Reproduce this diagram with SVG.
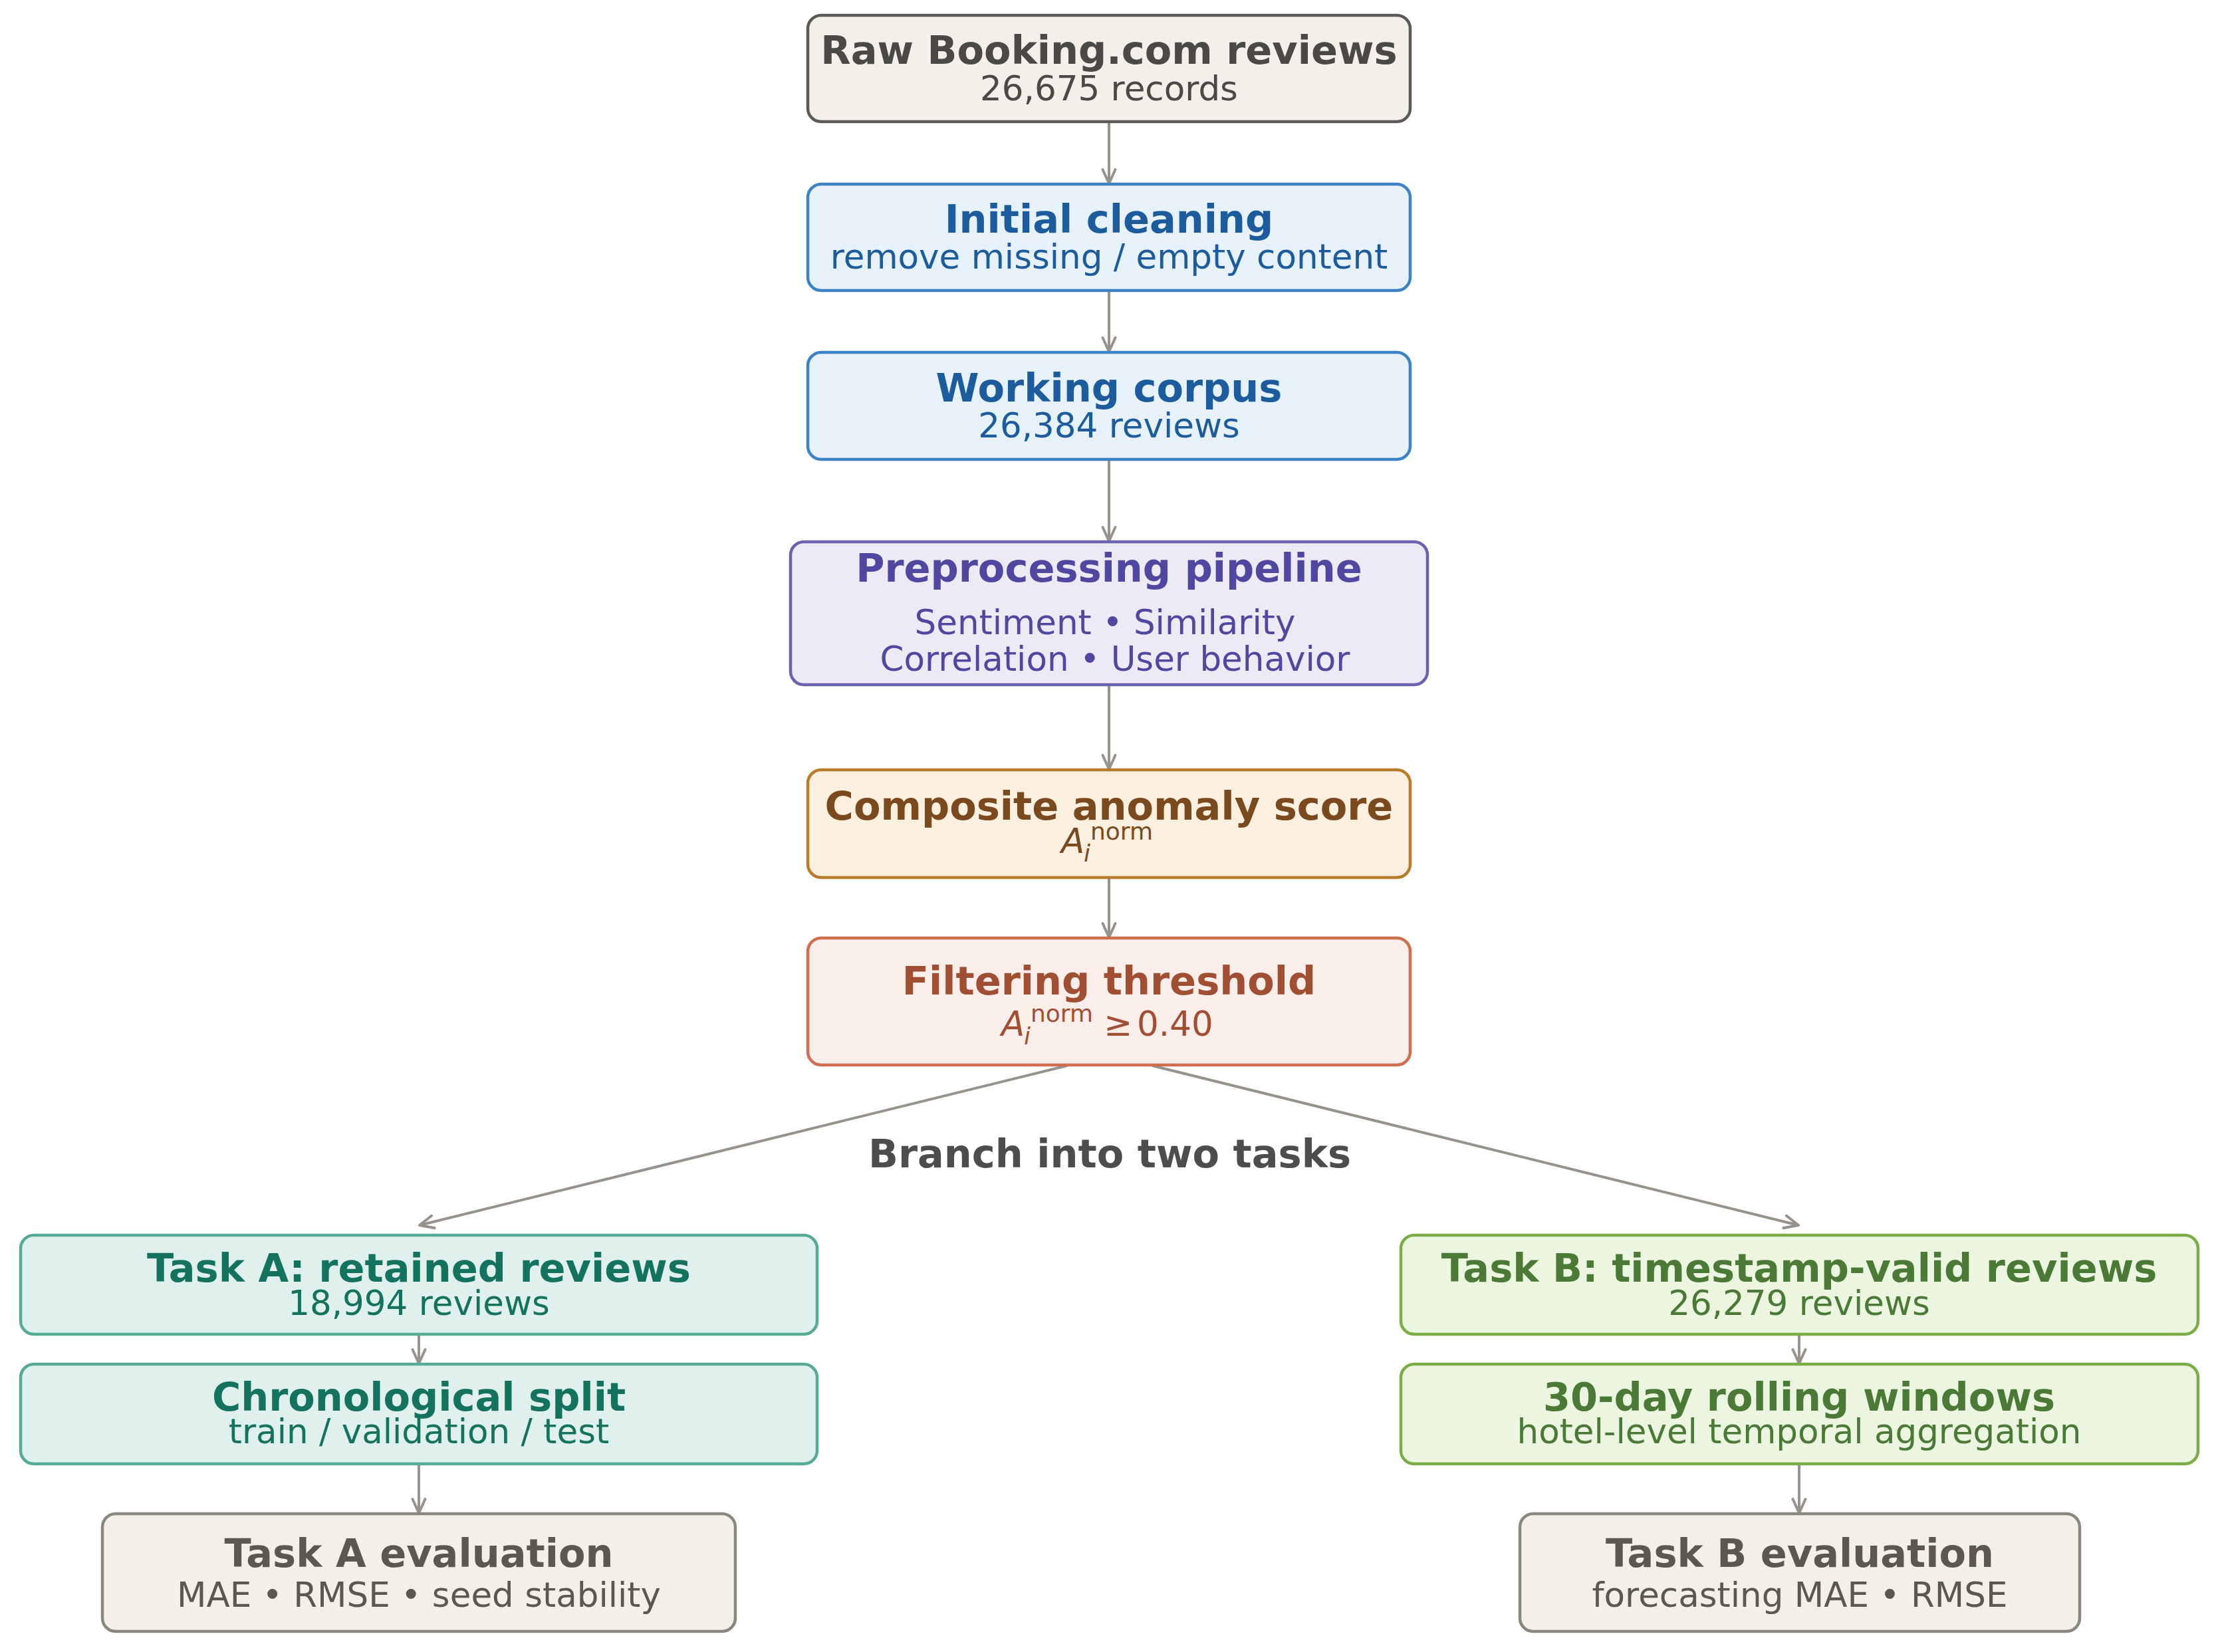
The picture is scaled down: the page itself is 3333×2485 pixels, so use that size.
<svg xmlns="http://www.w3.org/2000/svg" width="3333" height="2485" viewBox="0 0 3333 2485">
<style>
text{font-family:"DejaVu Sans","Liberation Sans",sans-serif}
.t{font-weight:bold;font-size:59px;text-anchor:middle}
.s{font-size:51.5px;text-anchor:middle}
.box{stroke-width:4.5}
.gray rect{fill:#f3f0ea;stroke:#5b5a55}
.gray text{fill:#4a4944}
.blue rect{fill:#e7f1fa;stroke:#3d82c4}
.blue text{fill:#1d5c9c}
.purple rect{fill:#edeaf6;stroke:#6b62b0}
.purple text{fill:#5048a0}
.amber rect{fill:#fbf0e0;stroke:#b97c2c}
.amber text{fill:#7a4a1e}
.red rect{fill:#f9eee9;stroke:#d06e50}
.red text{fill:#a14f32}
.teal rect{fill:#e0f0ec;stroke:#55ab95}
.teal text{fill:#13735e}
.green rect{fill:#ebf5e0;stroke:#7bad47}
.green text{fill:#4a7a36}
.eval rect{fill:#f3f0ea;stroke:#8b877f}
.eval text{fill:#5c5751}
.m{font-size:51.5px;font-style:italic}
.sup{font-size:36px}
.sub{font-size:36px;font-style:italic}
#connectors line{stroke:#97928b;stroke-width:4;fill:none;marker-end:url(#arr)}
</style>
<defs>
<marker id="arr" markerUnits="userSpaceOnUse" viewBox="-26 -14 30 28" refX="0" refY="0" markerWidth="30" markerHeight="28" orient="auto">
<path d="M-21,-9.5 L0,0 L-21,9.5" fill="none" stroke="#97928b" stroke-width="4" stroke-linecap="round" stroke-linejoin="round"/>
</marker>
</defs>
<rect width="3333" height="2485" fill="#ffffff"/>
<g id="connectors">
<line x1="1668" y1="185" x2="1668" y2="276"/>
<line x1="1668" y1="439" x2="1668" y2="529"/>
<line x1="1668" y1="693" x2="1668" y2="814"/>
<line x1="1668" y1="1032" x2="1668" y2="1157"/>
<line x1="1668" y1="1322" x2="1668" y2="1410"/>
<line x1="1605" y1="1603" x2="631" y2="1843"/>
<line x1="1733" y1="1603" x2="2705" y2="1843"/>
<line x1="630" y1="2009" x2="630" y2="2051"/>
<line x1="630" y1="2204" x2="630" y2="2276"/>
<line x1="2706" y1="2009" x2="2706" y2="2051"/>
<line x1="2706" y1="2204" x2="2706" y2="2276"/>
</g>
<g id="raw" class="gray">
<rect class="box" x="1215" y="23" width="906" height="160" rx="20"/>
<text class="t" x="1668" y="96">Raw Booking.com reviews</text>
<text class="s" x="1668" y="151">26,675 records</text>
</g>
<g id="cleaning" class="blue">
<rect class="box" x="1215" y="277" width="906" height="160" rx="20"/>
<text class="t" x="1668" y="350">Initial cleaning</text>
<text class="s" x="1668" y="404">remove missing / empty content</text>
</g>
<g id="corpus" class="blue">
<rect class="box" x="1215" y="530" width="906" height="161" rx="20"/>
<text class="t" x="1668" y="604">Working corpus</text>
<text class="s" x="1668" y="658">26,384 reviews</text>
</g>
<g id="preprocessing" class="purple">
<rect class="box" x="1189" y="815" width="958" height="215" rx="20"/>
<text class="t" x="1668" y="875">Preprocessing pipeline</text>
<text class="s" x="1662" y="954">Sentiment • Similarity</text>
<text class="s" x="1677" y="1009">Correlation • User behavior</text>
</g>
<g id="composite" class="amber">
<rect class="box" x="1215" y="1158" width="906" height="162" rx="20"/>
<text class="t" x="1668" y="1233">Composite anomaly score</text>
<text class="m" x="1596" y="1283">A</text>
<text class="sub" x="1630" y="1296">i</text>
<text class="sup" x="1640" y="1263">norm</text>
</g>
<g id="threshold" class="red">
<rect class="box" x="1215" y="1411" width="906" height="191" rx="20"/>
<text class="t" x="1668" y="1496">Filtering threshold</text>
<text class="m" x="1506" y="1558">A</text>
<text class="sub" x="1540" y="1571">i</text>
<text class="sup" x="1550" y="1537">norm</text>
<text style="font-size:51.5px" x="1660" y="1558">≥</text>
<text style="font-size:51.5px" x="1710" y="1558">0.40</text>
</g>
<g id="branch-label">
<text class="t" x="1669" y="1756" fill="#4d4d4d">Branch into two tasks</text>
</g>
<g id="taskA" class="teal">
<rect class="box" x="31" y="1858" width="1198" height="149" rx="20"/>
<text class="t" x="630" y="1928">Task A: retained reviews</text>
<text class="s" x="630" y="1978">18,994 reviews</text>
</g>
<g id="split" class="teal">
<rect class="box" x="31" y="2052" width="1198" height="150" rx="20"/>
<text class="t" x="630" y="2122">Chronological split</text>
<text class="s" x="630" y="2171">train / validation / test</text>
</g>
<g id="evalA" class="eval">
<rect class="box" x="154" y="2277" width="952" height="177" rx="20"/>
<text class="t" x="630" y="2357">Task A evaluation</text>
<text class="s" x="630" y="2417">MAE • RMSE • seed stability</text>
</g>
<g id="taskB" class="green">
<rect class="box" x="2107" y="1858" width="1199" height="149" rx="20"/>
<text class="t" x="2706" y="1928">Task B: timestamp-valid reviews</text>
<text class="s" x="2706" y="1978">26,279 reviews</text>
</g>
<g id="windows" class="green">
<rect class="box" x="2107" y="2052" width="1199" height="150" rx="20"/>
<text class="t" x="2706" y="2122">30-day rolling windows</text>
<text class="s" x="2706" y="2171">hotel-level temporal aggregation</text>
</g>
<g id="evalB" class="eval">
<rect class="box" x="2286" y="2277" width="842" height="177" rx="20"/>
<text class="t" x="2707" y="2357">Task B evaluation</text>
<text class="s" x="2707" y="2417">forecasting MAE • RMSE</text>
</g>
</svg>
